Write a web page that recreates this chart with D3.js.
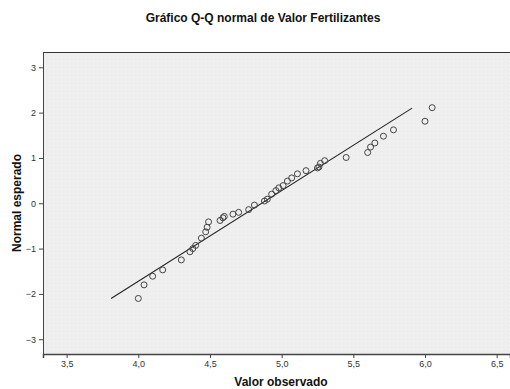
<!DOCTYPE html>
<html>
<head>
<meta charset="utf-8">
<script src="https://cdn.jsdelivr.net/npm/d3@7"></script>
<style>
  html, body { margin: 0; padding: 0; background: #fff; }
  text { font-family: "Liberation Sans", Arial, sans-serif; }
</style>
</head>
<body>
<svg id="chart" width="510" height="389"></svg>
<script>
const titleText = "Gráfico Q-Q normal de Valor Fertilizantes";
const xLabel = "Valor observado";
const yLabel = "Normal esperado";

// observed values (x) and expected normal values (y)
const observed = [4.00, 4.04, 4.10, 4.17, 4.30, 4.36, 4.38, 4.40, 4.44, 4.47, 4.48, 4.49,
  4.57, 4.59, 4.60, 4.66, 4.70, 4.77, 4.81, 4.88, 4.90, 4.93, 4.96, 4.98, 5.01, 5.04,
  5.07, 5.11, 5.17, 5.25, 5.26, 5.27, 5.30, 5.45, 5.60, 5.62, 5.65, 5.71, 5.78, 6.00, 6.05];
const expected = [-2.10, -1.80, -1.61, -1.47, -1.25, -1.07, -1.00, -0.93, -0.77, -0.63, -0.53, -0.41,
  -0.38, -0.32, -0.29, -0.24, -0.20, -0.14, -0.04, 0.05, 0.09, 0.20, 0.28, 0.34, 0.39, 0.49,
  0.56, 0.65, 0.72, 0.78, 0.80, 0.88, 0.94, 1.01, 1.12, 1.24, 1.33, 1.48, 1.62, 1.81, 2.11];

// reference line endpoints
const lineX = [3.81, 5.91];
const lineY = [-2.10, 2.10];

const xTicks = [3.5, 4.0, 4.5, 5.0, 5.5, 6.0, 6.5];
const yTicks = [-3, -2, -1, 0, 1, 2, 3];

const svg = d3.select("#chart");
const L = 43, R = 510, T = 52, B = 354;

const x = d3.scaleLinear().domain([3.335, 6.593]).range([L, R]);
const y = d3.scaleLinear().domain([-3.326, 3.338]).range([B, T]);

// pattern for dotted background
const defs = svg.append("defs");
const pat = defs.append("pattern").attr("id", "dots").attr("width", 4).attr("height", 4)
  .attr("patternUnits", "userSpaceOnUse");
pat.append("rect").attr("width", 4).attr("height", 4).attr("fill", "#eeeeee");
pat.append("rect").attr("x", 1).attr("y", 1).attr("width", 1).attr("height", 1).attr("fill", "#f7f7f7");

svg.append("rect").attr("x", L).attr("y", T).attr("width", R - L).attr("height", B - T)
  .attr("fill", "url(#dots)");

// borders
svg.append("line").attr("x1", L).attr("x2", R).attr("y1", T + 0.5).attr("y2", T + 0.5)
  .attr("stroke", "#333").attr("stroke-width", 1);
svg.append("line").attr("x1", L + 0.5).attr("x2", L + 0.5).attr("y1", T).attr("y2", B)
  .attr("stroke", "#444").attr("stroke-width", 1);

// x axis
const xAxis = d3.axisBottom(x).tickValues(xTicks).tickSize(4).tickPadding(3)
  .tickFormat(d => d3.format(".1f")(d).replace(".", ","));
const gx = svg.append("g").attr("transform", `translate(0,${B})`).call(xAxis);
gx.select(".domain").attr("stroke", "#444").attr("stroke-width", 1.5);
gx.selectAll(".tick line").attr("stroke", "#444");
gx.selectAll("text").attr("font-size", 9).attr("fill", "#333")
  .style("font-family", "'Liberation Sans', Arial, sans-serif");

// y axis
const yAxis = d3.axisLeft(y).tickValues(yTicks).tickSize(4).tickPadding(3)
  .tickFormat(d3.format("d"));
const gy = svg.append("g").attr("transform", `translate(${L},0)`).call(yAxis);
gy.select(".domain").remove();
gy.selectAll(".tick line").attr("stroke", "#444");
gy.selectAll("text").attr("font-size", 9).attr("fill", "#333")
  .style("font-family", "'Liberation Sans', Arial, sans-serif");

// reference line
svg.append("line")
  .attr("x1", x(lineX[0])).attr("y1", y(lineY[0]))
  .attr("x2", x(lineX[1])).attr("y2", y(lineY[1]))
  .attr("stroke", "#222").attr("stroke-width", 1.1);

// points
svg.append("g").selectAll("circle").data(observed).join("circle")
  .attr("cx", (d) => x(d))
  .attr("cy", (d, i) => y(expected[i]))
  .attr("r", 3)
  .attr("fill", "none")
  .attr("stroke", "#444")
  .attr("stroke-width", 1);

// title
svg.append("text").attr("x", 263).attr("y", 22).attr("text-anchor", "middle")
  .attr("font-size", 12).attr("font-weight", "bold").attr("fill", "#111").text(titleText);

// axis labels
svg.append("text").attr("x", 281).attr("y", 386).attr("text-anchor", "middle")
  .attr("font-size", 12).attr("font-weight", "bold").attr("fill", "#111").text(xLabel);
svg.append("text").attr("transform", "translate(21,203) rotate(-90)").attr("text-anchor", "middle")
  .attr("font-size", 12).attr("font-weight", "bold").attr("fill", "#111").text(yLabel);
</script>
</body>
</html>
